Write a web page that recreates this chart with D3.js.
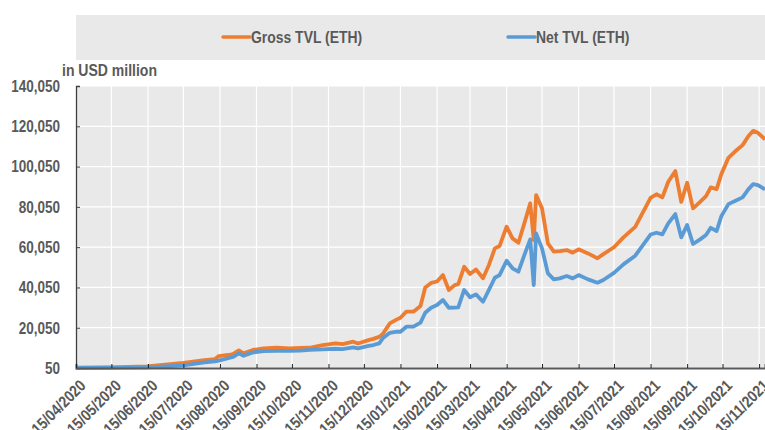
<!DOCTYPE html>
<html>
<head>
<meta charset="utf-8">
<script src="https://cdn.jsdelivr.net/npm/d3@7"></script>
<style>
  html, body { margin: 0; padding: 0; background: #fff; }
  svg { display: block; font-family: "Liberation Sans", Arial, sans-serif; }
</style>
</head>
<body>
<svg id="chart" width="765" height="430"></svg>
<script>
// ---- data ----
const dates = [
  "2020-04-15","2020-05-14","2020-06-14","2020-07-15","2020-08-02","2020-08-11","2020-08-14","2020-08-22",
  "2020-08-26","2020-08-31","2020-09-04","2020-09-12","2020-09-21","2020-10-02","2020-10-13","2020-10-22",
  "2020-10-30","2020-11-10","2020-11-21","2020-11-27","2020-12-06","2020-12-10","2020-12-19","2020-12-23",
  "2020-12-28","2020-12-31","2021-01-06","2021-01-12","2021-01-15","2021-01-20","2021-01-26","2021-02-01",
  "2021-02-05","2021-02-10","2021-02-15","2021-02-20","2021-02-25","2021-03-02","2021-03-05","2021-03-10",
  "2021-03-15","2021-03-20","2021-03-26","2021-03-31","2021-04-05","2021-04-09","2021-04-15","2021-04-20",
  "2021-04-25","2021-04-30","2021-05-05","2021-05-08","2021-05-10","2021-05-15","2021-05-20","2021-05-25",
  "2021-05-30","2021-06-05","2021-06-10","2021-06-15","2021-06-23","2021-07-01","2021-07-06","2021-07-15",
  "2021-07-23","2021-08-02","2021-08-15","2021-08-20","2021-08-25","2021-08-30","2021-09-05","2021-09-10",
  "2021-09-15","2021-09-20","2021-09-26","2021-10-01","2021-10-05","2021-10-10","2021-10-14","2021-10-20",
  "2021-10-26","2021-11-01","2021-11-06","2021-11-10","2021-11-14","2021-11-20"
];
const grossTVL = [
  200, 400, 800, 2600, 4000, 4500, 6000, 6500,
  7000, 8800, 7300, 9000, 9800, 10100, 9800, 10000,
  10100, 11400, 12300, 11900, 13100, 12200, 13900, 14500,
  15500, 16900, 22200, 24200, 25000, 28000, 28000, 30800,
  40000, 42300, 43000, 46200, 38800, 41200, 41700, 50300,
  46700, 49000, 44600, 51200, 59450, 60600, 70200, 64400,
  62200, 71850, 81800, 63600, 85900, 79300, 61900, 57800,
  58100, 58600, 57300, 58950, 56950, 54500, 56600, 60000,
  64900, 70150, 84500, 86300, 84750, 92500, 97800, 82550,
  92000, 79300, 82550, 85400, 89700, 88850, 96300, 104400,
  107750, 110700, 115200, 117800, 116800, 113550
];
const netTVL = [
  100, 200, 400, 1400, 2800, 3300, 3700, 4900,
  5500, 7300, 6100, 7800, 8400, 8600, 8600, 8700,
  9000, 9300, 9600, 9400, 10300, 9800, 11000, 11450,
  12300, 14800, 17500, 18050, 18050, 20550, 20550, 22550,
  27500, 29950, 31300, 33800, 29950, 30000, 30200, 38800,
  35150, 36600, 32950, 38800, 44850, 46200, 53300, 49550,
  47850, 56100, 63900, 41250, 66900, 59450, 47050, 44050,
  44550, 45700, 44550, 46200, 44050, 42400, 43750, 47300,
  51500, 55800, 66300, 67200, 66400, 71850, 76450, 64900,
  71000, 61600, 63900, 66050, 69650, 68050, 75450, 81400,
  83050, 84750, 88850, 91350, 90850, 88700
];
const yTicks = [50, 20050, 40050, 60050, 80050, 100050, 120050, 140050];
const xTickDates = [
  "2020-04-15","2020-05-15","2020-06-15","2020-07-15","2020-08-15","2020-09-15","2020-10-15",
  "2020-11-15","2020-12-15","2021-01-15","2021-02-15","2021-03-15","2021-04-15","2021-05-15",
  "2021-06-15","2021-07-15","2021-08-15","2021-09-15","2021-10-15","2021-11-15"
];
const seriesNames = ["Gross TVL (ETH)", "Net TVL (ETH)"];
const seriesColors = ["#ED7D31", "#5B9BD5"];
const yUnit = "in USD million";

// ---- layout ----
const FONT = '"Liberation Sans", Arial, sans-serif';
const NARROW = 0.82; // horizontal squeeze to imitate a narrow bold face
const svg = d3.select("#chart");
const mL = 76, mR = 765, mT = 86, mB = 368;
const parse = d3.utcParse("%Y-%m-%d");
const fmtTick = d3.utcFormat("%d/%m/%Y");
const textCol = "#595959";
const bg = "#E9E9E9";

const x = d3.scaleUtc()
  .domain([parse("2020-04-15"), parse("2021-11-20")])
  .range([mL, mR]);
const y = d3.scaleLinear().domain([50, 140050]).range([mB, mT]);

// legend box
svg.append("rect").attr("x", 76).attr("y", 15).attr("width", 689).attr("height", 45).attr("fill", bg);
const legendPos = [223, 508];
seriesNames.forEach((n, i) => {
  const g = svg.append("g").attr("transform", `translate(${legendPos[i]},37)`);
  g.append("line").attr("x1", 0).attr("x2", 27).attr("y1", 0).attr("y2", 0)
    .attr("stroke", seriesColors[i]).attr("stroke-width", 3.5).attr("stroke-linecap", "round");
  g.append("text").attr("transform", `translate(28,6) scale(${NARROW},1)`)
    .attr("fill", textCol).attr("font-family", FONT)
    .attr("font-size", 17).attr("font-weight", "bold").text(n);
});

// plot background
svg.append("rect").attr("x", mL).attr("y", mT).attr("width", mR - mL).attr("height", mB - mT).attr("fill", bg);

// gridlines
svg.append("g").selectAll("line").data(yTicks).join("line")
  .attr("x1", mL).attr("x2", mR).attr("y1", d => y(d)).attr("y2", d => y(d))
  .attr("stroke", "#fff").attr("stroke-width", 1.2);
svg.append("g").selectAll("line").data(xTickDates.slice(1)).join("line")
  .attr("x1", d => x(parse(d))).attr("x2", d => x(parse(d)))
  .attr("y1", mT).attr("y2", mB)
  .attr("stroke", "#fff").attr("stroke-width", 1.2);

// unit label
svg.append("text").attr("transform", `translate(62,76) scale(0.85,1)`)
  .attr("fill", textCol).attr("font-family", FONT)
  .attr("font-size", 16.5).attr("font-weight", "bold").text(yUnit);

// y axis
const yAxis = d3.axisLeft(y).tickValues(yTicks).tickSize(-4).tickPadding(16)
  .tickFormat(d3.format(","));
const gy = svg.append("g").attr("transform", `translate(${mL},0)`).call(yAxis);
gy.select(".domain").attr("stroke", "#404040").attr("stroke-width", 1.3);
gy.selectAll(".tick line").attr("stroke", "#404040");
gy.selectAll("text").attr("fill", textCol).attr("font-size", 16.5).attr("font-weight", "bold")
  .attr("font-family", FONT)
  .attr("x", -16 / NARROW).attr("transform", `scale(${NARROW},1)`);

// lines
const pts = dates.map((d, i) => ({ d: parse(d), g: grossTVL[i], n: netTVL[i] }));
const lineG = d3.line().x(p => x(p.d)).y(p => y(p.g));
const lineN = d3.line().x(p => x(p.d)).y(p => y(p.n));
svg.append("clipPath").attr("id", "clip").append("rect")
  .attr("x", mL).attr("y", 0).attr("width", mR - mL).attr("height", mB + 2);
svg.append("path").datum(pts).attr("d", lineG).attr("fill", "none")
  .attr("stroke", seriesColors[0]).attr("stroke-width", 3.8).attr("stroke-linejoin", "round")
  .attr("clip-path", "url(#clip)");
svg.append("path").datum(pts).attr("d", lineN).attr("fill", "none")
  .attr("stroke", seriesColors[1]).attr("stroke-width", 3.8).attr("stroke-linejoin", "round")
  .attr("clip-path", "url(#clip)");

// x axis
const xAxis = d3.axisBottom(x).tickValues(xTickDates.map(parse)).tickSize(-4).tickPadding(6)
  .tickFormat(fmtTick);
const gx = svg.append("g").attr("transform", `translate(0,${mB})`).call(xAxis);
gx.select(".domain").attr("stroke", "#595959").attr("stroke-width", 2);
gx.selectAll(".tick line").attr("stroke", "#222");
gx.selectAll("text").attr("fill", textCol).attr("font-size", 16).attr("font-weight", "bold")
  .attr("font-family", FONT)
  .attr("text-anchor", "end").attr("x", 0).attr("y", 0).attr("dy", "0.72em")
  .attr("transform", "translate(2,10.5) rotate(-45) scale(0.86,1)");
</script>
</body>
</html>
